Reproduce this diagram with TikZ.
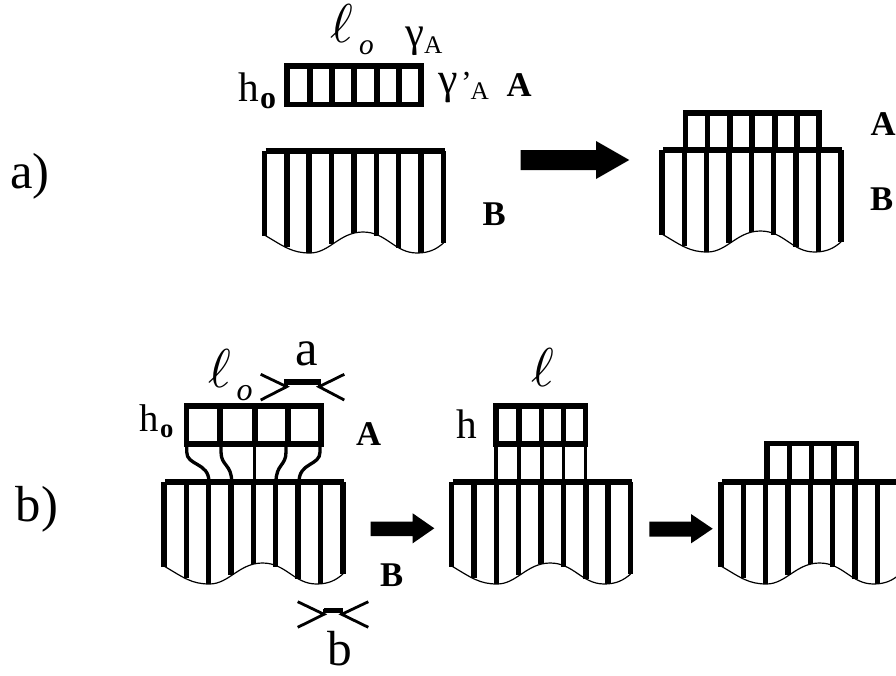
\documentclass[tikz,border=0pt]{standalone}
\usepackage{fontspec}
\usepackage{graphicx}
\setmainfont{Liberation Serif}
\newcommand{\lbl}[5]{\node[txt] (#1) at (#2,#3) {\fontsize{#4}{#4}\selectfont #5};}
\newcommand{\bigell}{\scalebox{4.1}{$\ell$}}
\newcommand{\blockB}[2]{%
  \begin{scope}[shift={(#1,#2)}]
    \draw[wave] (0,84) .. controls (20,96) and (28,102) .. (45.5,102) .. controls (65,102) and (75,81) .. (98.5,81) .. controls (122,81) and (130,102) .. (152.5,102) .. controls (165,102) and (172,98) .. (179,92);
    \draw[barline] (1,0) -- (180,0);
    \foreach \i/\d in {0/85,1/96,2/102,3/93,4/82,5/85,6/97,7/102,8/92}
      \draw[barline] ({\i*22.35},0) -- ({\i*22.35},\d);
  \end{scope}}
\newcommand{\fatarrow}[7]{%
  \fill[black] (#1,#4) -- (#2,#4) -- (#2,#6) -- (#3,#7) -- (#2,2*#7-#6) -- (#2,#5) -- (#1,#5) -- cycle;}
\tikzset{
  barline/.style={line width=4.1pt,black,line cap=butt},
  midline/.style={line width=2.5pt,black},
  wave/.style={line width=0.9pt,black},
  pointer/.style={line width=2.1pt,black},
  txt/.style={anchor=base west,inner sep=0pt,outer sep=0pt},
}
\begin{document}
\begin{tikzpicture}[x=0.75pt,y=-0.75pt]
\useasboundingbox (0,0) rectangle (896,675);
\clip (0,0) rectangle (896,675);
\fill[white] (0,0) rectangle (896,675);
% a) left
\draw[barline] (287,66) rectangle (421,104.5);
\foreach \x in {310,332,354,377,399} \draw[barline] (\x,66) -- (\x,104.5);
\blockB{264.5}{151}
% a) right
\blockB{662}{150}
\draw[barline] (685.7,150) -- (685.7,113) -- (819,113) -- (819,150);
\foreach \x in {707.5,730,752,775,797} \draw[barline] (\x,113) -- (\x,150);
% b) left
\blockB{164}{482}
\draw[barline] (186.7,406) rectangle (321,444);
\foreach \x in {220,255,288} \draw[barline] (\x,406) -- (\x,444);
\draw[midline] (186.7,444) -- (186.7,452) .. controls (186.7,466) and (209,462) .. (209,482);
\draw[midline] (221,444) -- (221,452) .. controls (221,466) and (231.7,464) .. (231.7,482);
\draw[midline] (254.5,444) -- (254.5,482);
\draw[midline] (286,444) -- (286,452) .. controls (286,466) and (276,464) .. (276,482);
\draw[midline] (320,444) -- (320,452) .. controls (320,466) and (299,462) .. (299,482);
% b) middle
\blockB{451.7}{482}
\draw[barline] (496,406) rectangle (585.7,444);
\foreach \x in {519,541.7,563.7} \draw[barline] (\x,406) -- (\x,444);
\foreach \x in {496,519,563.7,585.7} \draw[midline] (\x,444) -- (\x,482);
\draw[line width=3pt] (541.7,444) -- (541.7,482);
% b) right
\blockB{721}{482}
\draw[barline] (767,482) -- (767,443.7) -- (856.7,443.7) -- (856.7,482);
\foreach \x in {789.3,811.7,834} \draw[barline] (\x,443.7) -- (\x,482);
% arrows
\fatarrow{520.7}{596}{629.3}{150}{170}{141}{160}
\fatarrow{370.7}{412.7}{434.3}{521.7}{536}{513.3}{528.3}
\fatarrow{649.3}{691}{712.7}{521.7}{536.7}{514}{528.7}
% bracket a
\draw[barline] (284,382) -- (320.7,382);
\draw[pointer] (260.7,374.3) -- (286.7,386.7) -- (260.7,400);
\draw[pointer] (344.3,374.3) -- (319,386.7) -- (344.3,400);
\draw[pointer] (286.7,381) -- (286.7,386.7);
\draw[pointer] (319,381) -- (319,386.7);
% bracket b
\draw[barline] (324,610.5) -- (342.7,610.5);
\draw[pointer] (297.7,601.7) -- (324,614.3) -- (297.7,627.3);
\draw[pointer] (368.3,601.7) -- (341.7,614.3) -- (368.3,627.3);
\draw[pointer] (324,609) -- (324,614.3);
\draw[pointer] (341.7,609) -- (341.7,614.3);
% labels
\lbl{la}{10}{188}{38}{a)}
\lbl{lb}{16}{521.7}{38}{b)}
\lbl{ella}{330}{42}{10}{\bigell}
\lbl{oa}{359}{54}{22}{\itshape o}
\lbl{gA}{405}{46}{32}{γ}
\lbl{gAs}{424}{53}{19}{A}
\lbl{gpA}{438}{93}{33}{γ}
\lbl{gpp}{461}{93}{24}{’}
\lbl{gpAs}{470.7}{99}{19}{A}
\lbl{hoa}{238}{101.7}{31}{h}
\lbl{hoas}{260}{108}{24}{\bfseries o}
\lbl{Aa}{506.7}{96}{26}{\bfseries A}
\lbl{Ba}{482.7}{225}{26}{\bfseries B}
\lbl{Ar}{870.5}{135}{26}{\bfseries A}
\lbl{Br}{870}{210}{26}{\bfseries B}
\lbl{hob}{139}{431}{29}{h}
\lbl{hobs}{160}{437}{20}{\bfseries o}
\lbl{ellb}{208}{387}{10}{\bigell}
\lbl{ob}{236.7}{400}{24}{\itshape o}
\lbl{alab}{295}{365}{38}{a}
\lbl{blab}{327}{665}{37}{b}
\lbl{Ab}{356}{445}{26}{\bfseries A}
\lbl{Bb}{380}{586}{26}{\bfseries B}
\lbl{hm}{456.7}{438}{31}{h}
\lbl{ellm}{531.7}{386}{10}{\bigell}
\end{tikzpicture}
\end{document}
